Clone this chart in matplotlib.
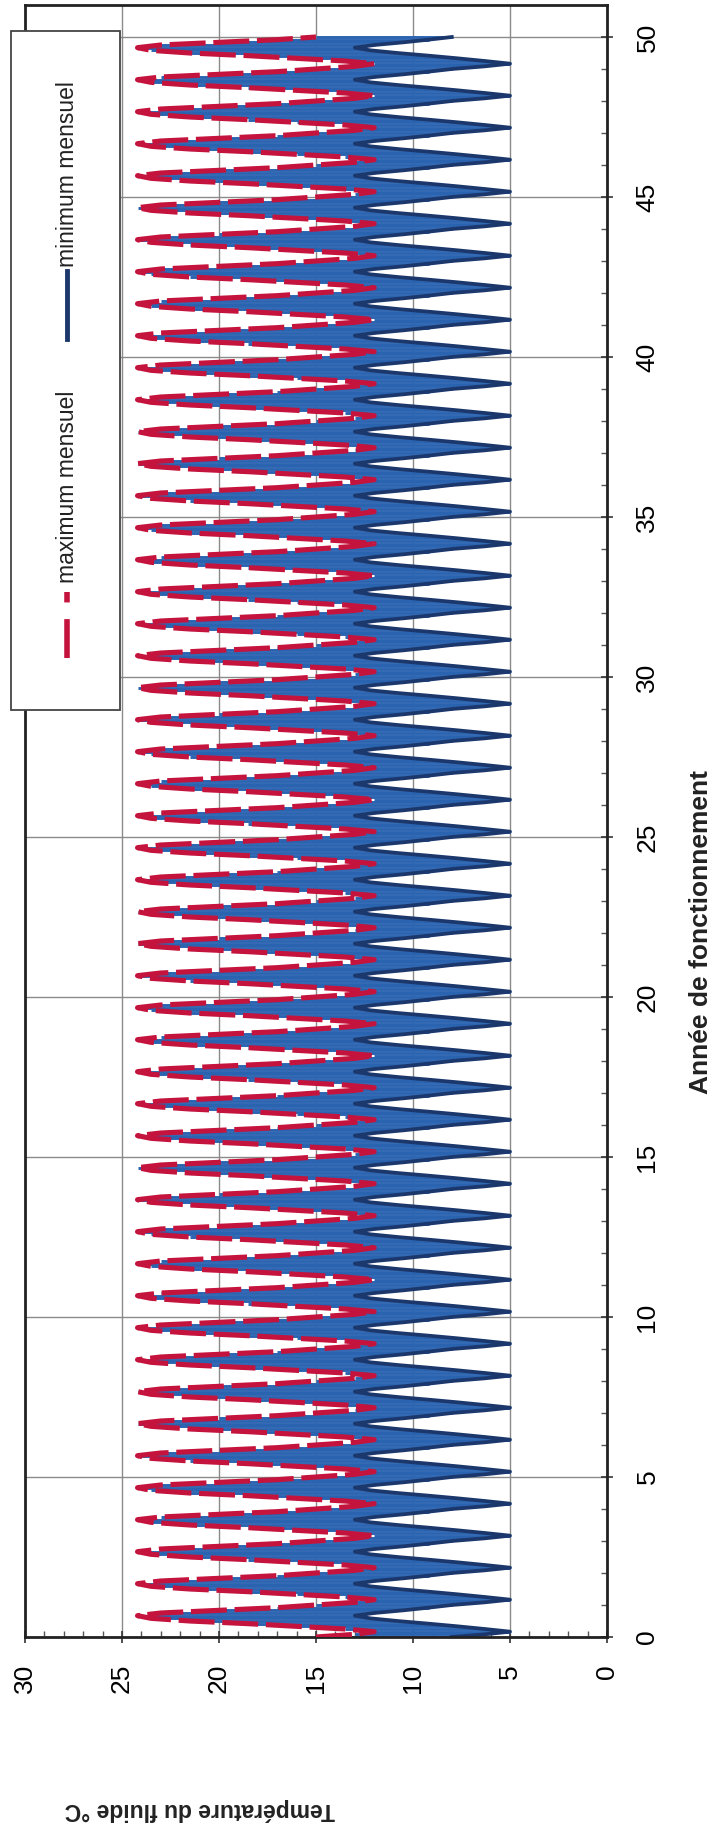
import numpy as np
import matplotlib.pyplot as plt
from matplotlib.lines import Line2D
from matplotlib.patches import Rectangle
from matplotlib.ticker import MultipleLocator

plt.rcParams['font.family'] = ['Liberation Sans', 'DejaVu Sans']

# profil mensuel (janvier -> decembre), repete chaque annee
max_mensuel = [15.0, 13.0, 12.0, 13.5, 16.0, 18.5, 21.5, 23.5, 24.2, 23.0, 20.0, 17.0]
min_mensuel = [8.0, 6.3, 5.0, 6.3, 7.7, 9.2, 10.8, 12.2, 13.0, 12.0, 10.5, 9.2]
n_annees = 50

annees = np.arange(n_annees * 12 + 1) / 12.0
t_max = np.array(max_mensuel * (n_annees + 1))[:len(annees)]
t_min = np.array(min_mensuel * (n_annees + 1))[:len(annees)]

W, H = 713, 1834
fig = plt.figure(figsize=(W / 100, H / 100), dpi=100)
ax = fig.add_axes([25 / W, 1 - 1637 / H, 582 / W, 1632 / H])

# lignes haut-bas entre min et max de chaque mois
ax.hlines(annees, t_min, t_max, color='#2a64b0', lw=2.1, zorder=2)
ax.plot(t_min, annees, color='#1b376c', lw=2.7, zorder=2.2)
ax.plot(t_max, annees, color='#c4133c', lw=3.7, ls=(0, (7, 1.5)), zorder=3)

ax.set_xlim(30, 0)
ax.set_ylim(0, 51)
ax.set_xticks(range(0, 31, 5))
ax.set_yticks(range(0, 51, 5))
ax.xaxis.set_minor_locator(MultipleLocator(1))
ax.yaxis.set_minor_locator(MultipleLocator(1))
ax.yaxis.tick_right()
ax.tick_params(which='major', direction='inout', length=9, width=1.2,
               labelsize=19, color='#333333')
ax.tick_params(which='minor', direction='in', length=4, width=1, color='#555555')
ax.tick_params(axis='x', which='major', pad=15)
ax.tick_params(axis='y', which='major', pad=16)
for lab in ax.get_xticklabels():
    lab.set_rotation(90)
    lab.set_ha('center')
    lab.set_va('top')
for lab in ax.get_yticklabels():
    lab.set_rotation(90)
    lab.set_ha('left')
    lab.set_va('center')

ax.grid(which='major', color='#8a8a8a', lw=1)
ax.set_axisbelow(True)
for s in ax.spines.values():
    s.set_linewidth(2)
    s.set_color('#222222')

fig.text(701 / W, 1 - 932 / H, 'Année de fonctionnement', rotation=90,
         ha='center', va='center', fontsize=19, fontweight='bold', color='#222222')
fig.text(200 / W, 1 - 1810 / H, 'Température du fluide °C', rotation=180,
         ha='center', va='center', fontsize=16.5, fontweight='bold', color='#222222')

# legende (tournee comme le graphe)
fig.add_artist(Rectangle((11 / W, 1 - 710 / H), 109 / W, 679 / H, transform=fig.transFigure,
                         facecolor='white', edgecolor='#444444', lw=1.3, zorder=5))
fig.add_artist(Line2D([67 / W, 67 / W], [1 - 658 / H, 1 - 592 / H], transform=fig.transFigure,
                      color='#c4133c', lw=4.0, ls=(0, (7, 3)), zorder=6))
fig.add_artist(Line2D([67 / W, 67 / W], [1 - 339 / H, 1 - 271 / H], transform=fig.transFigure,
                      color='#1b376c', lw=3.5, zorder=6))
fig.text(67 / W, 1 - 583 / H, 'maximum mensuel', rotation=90, ha='center', va='bottom',
         fontsize=16.5, color='#222222', zorder=6)
fig.text(67 / W, 1 - 267 / H, 'minimum mensuel', rotation=90, ha='center', va='bottom',
         fontsize=16.5, color='#222222', zorder=6)

fig.savefig('out.png', dpi=100)
